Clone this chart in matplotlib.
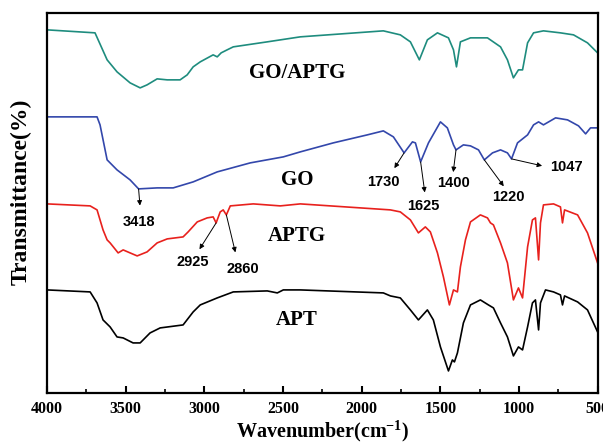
import numpy as np
import matplotlib
matplotlib.use('Agg')
import matplotlib.pyplot as plt
from matplotlib.ticker import MultipleLocator

plt.rcParams['mathtext.fontset'] = 'custom'
plt.rcParams['mathtext.rm'] = 'Liberation Serif:bold'
plt.rcParams['mathtext.default'] = 'rm'

# FTIR spectra, offset vertically (arbitrary transmittance units)
wn_goaptg = [4000, 3695, 3618, 3555, 3472, 3408, 3364, 3300, 3236, 3154, 3109, 3071,
             3026, 2944, 2918, 2893, 2855, 2816, 2600, 2390, 1862, 1754, 1690, 1633,
             1582, 1518, 1448, 1416, 1397, 1372, 1308, 1200, 1117, 1073, 1035, 1003,
             977, 945, 907, 844, 736, 653, 564, 500]
t_goaptg = [363, 360, 333, 321, 310, 305, 308, 314, 313, 313, 318, 326,
            331, 338, 336, 340, 343, 346, 351, 356, 362, 358, 351, 333,
            353, 360, 355, 343, 326, 351, 355, 355, 346, 333, 315, 323,
            323, 350, 360, 362, 360, 358, 350, 340]

wn_go = [4000, 3682, 3663, 3618, 3555, 3472, 3418, 3300, 3198, 3071, 2918, 2708,
         2498, 2390, 2180, 1964, 1862, 1798, 1730, 1677, 1658, 1625, 1575, 1499,
         1455, 1416, 1400, 1353, 1308, 1257, 1220, 1168, 1117, 1073, 1047, 1009,
         945, 907, 875, 844, 767, 691, 621, 576, 545, 500]
t_go = [276, 276, 268, 233, 223, 213, 204, 205, 205, 211, 221, 230,
        236, 241, 250, 258, 262, 256, 240, 251, 250, 231, 250, 271,
        265, 248, 243, 248, 247, 243, 233, 240, 243, 240, 234, 250,
        258, 268, 271, 268, 275, 273, 267, 259, 265, 265]

wn_aptg = [4000, 3726, 3682, 3644, 3618, 3599, 3548, 3516, 3472, 3427, 3364, 3300,
           3236, 3135, 3103, 3045, 2982, 2944, 2925, 2899, 2880, 2860, 2835, 2689,
           2517, 2390, 1817, 1754, 1690, 1639, 1595, 1563, 1518, 1480, 1442, 1416,
           1391, 1372, 1340, 1308, 1245, 1200, 1181, 1162, 1117, 1073, 1035, 1003,
           977, 945, 914, 895, 875, 863, 844, 780, 736, 723, 710, 627, 564, 500]
t_aptg = [189, 187, 183, 163, 153, 150, 140, 143, 140, 137, 141, 150,
          154, 156, 161, 171, 175, 176, 170, 181, 183, 178, 187, 189,
          187, 189, 183, 181, 173, 160, 166, 161, 140, 116, 88, 103,
          101, 126, 153, 171, 178, 175, 170, 168, 150, 130, 93, 105,
          95, 146, 173, 175, 133, 170, 188, 189, 186, 170, 183, 178, 160, 130]

wn_apt = [4000, 3726, 3682, 3644, 3599, 3555, 3516, 3453, 3408, 3345, 3281, 3135,
          3071, 3026, 2918, 2816, 2600, 2536, 2498, 2390, 1862, 1817, 1754, 1690,
          1639, 1582, 1544, 1499, 1448, 1423, 1410, 1391, 1353, 1308, 1245, 1194,
          1162, 1117, 1073, 1035, 1003, 977, 945, 914, 895, 875, 863, 831,
          780, 736, 723, 710, 627, 564, 500]
t_apt = [103, 101, 90, 73, 66, 56, 55, 50, 50, 60, 65, 68,
         81, 88, 95, 101, 102, 100, 103, 103, 100, 97, 95, 83,
         73, 83, 73, 46, 22, 33, 31, 40, 70, 88, 93, 88,
         85, 70, 56, 37, 46, 43, 66, 90, 93, 63, 90, 103,
         101, 98, 88, 97, 91, 83, 61]

names = ['GO/APTG', 'GO', 'APTG', 'APT']
colors = ['#1e8c7e', '#3347ab', '#e8211d', '#000000']

go_bands = [3418, 1730, 1625, 1400, 1220, 1047]
aptg_bands = [2925, 2860]

serif = 'Liberation Serif'
sans = 'Liberation Sans'

fig = plt.figure(figsize=(6.03, 4.43), dpi=100)
ax = fig.add_axes([0.078, 0.113, 0.913, 0.858])

series = [(wn_goaptg, t_goaptg), (wn_go, t_go), (wn_aptg, t_aptg), (wn_apt, t_apt)]
for (x, y), c in zip(series, colors):
    ax.plot(x, y, color=c, lw=1.2)

ax.set_xlim(4000, 500)
ax.set_ylim(0, 380)

# curve names
label_y = [320, 213, 157, 73]
for n, ly in zip(names, label_y):
    ax.text(2410, ly, n, fontsize=15, fontweight='bold', family=serif,
            ha='center', va='center')

# arrow head offset and text offset (points) from each marked band
offsets = {
    3418: ((1, -12), (0, -24), 'center'),
    1730: ((-7, -11), (-15, -21), 'center'),
    1625: ((3, -22), (2, -32), 'center'),
    1400: ((-2, -16), (-2, -24), 'center'),
    1220: ((14, -19), (17, -27), 'center'),
    1047: ((22, -5), (28, -6), 'left'),
    2925: ((-12, -19), (-17, -28), 'center'),
    2860: ((6.5, -27), (12, -39), 'center'),
}

def mark(wn_list, t_list, bands):
    xs = np.array(wn_list[::-1])
    ys = np.array(t_list[::-1])
    for b in bands:
        yb = np.interp(b, xs, ys)
        head, txt, ha = offsets[b]
        ax.annotate('', xy=(b, yb), xytext=head, textcoords='offset points',
                    arrowprops=dict(arrowstyle='<|-', color='black', lw=0.7,
                                    mutation_scale=7, shrinkA=0, shrinkB=0))
        ax.annotate(str(b), xy=(b, yb), xytext=txt, textcoords='offset points',
                    fontsize=10.5, fontweight='bold', family=sans,
                    ha=ha, va='center')

mark(wn_go, t_go, go_bands)
mark(wn_aptg, t_aptg, aptg_bands)

ax.xaxis.set_major_locator(MultipleLocator(500))
ax.xaxis.set_minor_locator(MultipleLocator(250))
ax.tick_params(axis='x', which='major', direction='in', length=5, width=1.5,
               labelsize=11.5, pad=6)
ax.tick_params(axis='x', which='minor', direction='in', length=3, width=1.2)
ax.tick_params(axis='y', left=False, labelleft=False)
for lab in ax.get_xticklabels():
    lab.set_fontweight('bold')
    lab.set_family(serif)

for s in ax.spines.values():
    s.set_linewidth(1.6)

ax.set_xlabel('Wavenumber(cm$^{-1}$)', fontsize=14.5, fontweight='bold',
              family=serif, va='center')
ax.xaxis.set_label_coords(0.5, -0.1)
ax.set_ylabel('Transmittance(%)', fontsize=17, fontweight='bold', family=serif,
              va='center')
ax.yaxis.set_label_coords(-0.047, 0.53)

fig.savefig('out.png', dpi=100)
